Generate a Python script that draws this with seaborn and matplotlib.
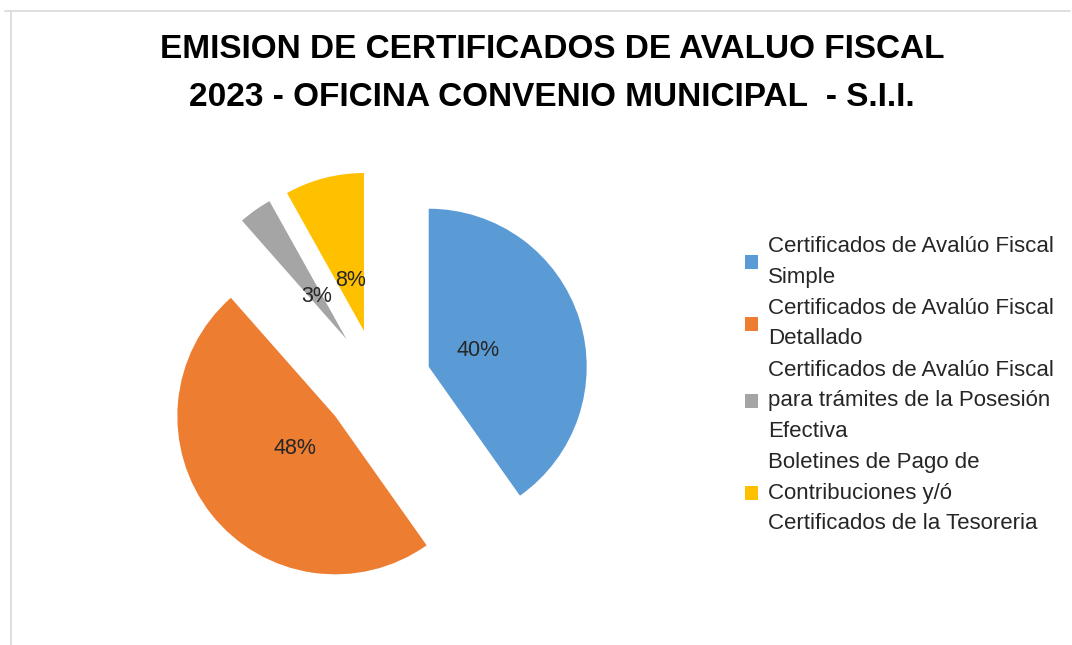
import matplotlib
matplotlib.use("Agg")
import matplotlib.pyplot as plt
import seaborn as sns
from matplotlib.lines import Line2D

sns.set_theme(style="white")
plt.rcParams['font.family'] = ['Liberation Sans', 'DejaVu Sans']

categories = [
    "Certificados de Avalúo Fiscal\nSimple",
    "Certificados de Avalúo Fiscal\nDetallado",
    "Certificados de Avalúo Fiscal\npara trámites de la Posesión\nEfectiva",
    "Boletines de Pago de\nContribuciones y/ó\nCertificados de la Tesoreria",
]
values = [40.2, 48.3, 3.4, 8.1]
colors = sns.color_palette(["#5B9BD5", "#ED7D31", "#A5A5A5", "#FFC000"])
title_lines = ["EMISION DE CERTIFICADOS DE AVALUO FISCAL",
               "2023 - OFICINA CONVENIO MUNICIPAL  - S.I.I."]

W, H = 1072, 645
fig = plt.figure(figsize=(W / 100, H / 100), dpi=100)

R = 158.0
cx, cy = 377.5, H - 383.0
hw, hh = 300.0, 250.0
ax = fig.add_axes([(cx - hw) / W, (cy - hh) / H, 2 * hw / W, 2 * hh / H])
wedges, texts, autotexts = ax.pie(
    values, colors=colors, startangle=90, counterclock=False,
    explode=[0.34] * 4, autopct=lambda p: f"{p:.0f}%", pctdistance=0.33,
    wedgeprops=dict(linewidth=0),
    textprops=dict(fontsize=15.5, color="#262626"))
ax.set_xlim(-hw / R, hw / R)
ax.set_ylim(-hh / R, hh / R)
ax.set_aspect('equal')
ax.axis('off')

leg = fig.legend(wedges, categories, loc='upper left',
                 bbox_to_anchor=(745 / W, 1 - 236 / H),
                 frameon=False, fontsize=16, handlelength=0.6, handleheight=0.6,
                 handletextpad=0.45, labelspacing=0.46, borderpad=0, borderaxespad=0)
for t in leg.get_texts():
    t.set_linespacing(1.6)
    t.set_color("#262626")

for i, line in enumerate(title_lines):
    fig.text(552 / W, 1 - (49 + i * 49) / H, line, ha='center', va='center',
             fontsize=24, fontweight='bold', color='#000000')

fig.add_artist(Line2D([5 / W, 1070 / W], [1 - 10.5 / H, 1 - 10.5 / H],
                      color='#d9d9d9', lw=1.2, transform=fig.transFigure))
fig.add_artist(Line2D([11 / W, 11 / W], [1 - 10.5 / H, 0], color='#d9d9d9',
                      lw=1.2, transform=fig.transFigure))

fig.savefig("out.png", dpi=100, facecolor='white')
